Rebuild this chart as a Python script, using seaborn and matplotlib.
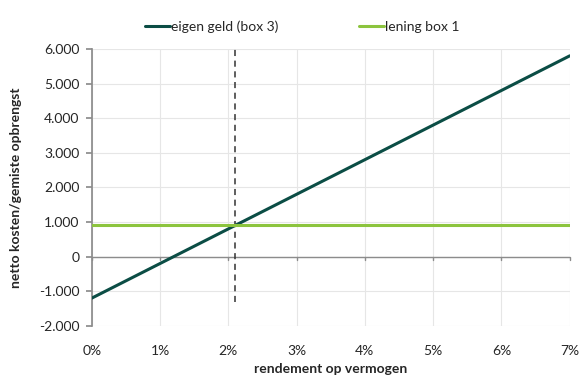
import numpy as np
import pandas as pd
import seaborn as sns
import matplotlib.pyplot as plt
from matplotlib.ticker import FuncFormatter

rendement = [0, 1, 2, 3, 4, 5, 6, 7]
eigen_geld = [-1200, -200, 800, 1800, 2800, 3800, 4800, 5800]
lening = [900, 900, 900, 900, 900, 900, 900, 900]
break_even = 2.1
dash_range = [-1300, 6000]

sns.set_theme(style="white")
plt.rcParams["font.family"] = ["Lato", "DejaVu Sans"]

df = pd.DataFrame({
    "rendement": rendement * 2,
    "waarde": eigen_geld + lening,
    "reeks": ["eigen geld (box 3)"] * len(rendement) + ["lening box 1"] * len(rendement),
})

fig = plt.figure(figsize=(5.88, 3.82), dpi=100)
ax = fig.add_axes([0.156, 0.147, 0.813, 0.725])

ax.plot([break_even, break_even], dash_range, color="#333333",
        linestyle=(0, (4, 3)), linewidth=1.1, zorder=3)

sns.lineplot(
    data=df,
    x="rendement",
    y="waarde",
    hue="reeks",
    palette=["#0b4d45", "#8cc43e"],
    linewidth=2.2,
    ax=ax,
    zorder=4,
)

ax.set_xlim(0, 7)
ax.set_ylim(-2000, 6000)
ax.set_xticks(range(0, 8))
ax.set_yticks(range(-2000, 6001, 1000))
ax.xaxis.set_major_formatter(FuncFormatter(lambda v, p: f"{int(v)}%"))
ax.yaxis.set_major_formatter(
    FuncFormatter(lambda v, p: f"{int(v):,}".replace(",", "."))
)

ax.grid(True, color="#e6e6e6", linewidth=0.8)
ax.axhline(0, color="#8c8c8c", linewidth=1, zorder=2)
for s in ["top", "right", "bottom"]:
    ax.spines[s].set_visible(False)
ax.spines["left"].set_color("#8c8c8c")

ax.tick_params(axis="y", length=4, color="#8c8c8c", labelsize=10, pad=5, left=True)
ax.tick_params(axis="x", length=0, labelsize=10, pad=14)
for x in rendement:
    ax.plot([x, x], [0, -90], color="#8c8c8c", linewidth=1, zorder=2,
            clip_on=False)

ax.set_xlabel("rendement op vermogen", fontsize=10, fontweight="bold", labelpad=4)
ax.set_ylabel("netto kosten/gemiste opbrengst", fontsize=10, fontweight="bold", labelpad=12)

ax.legend(
    loc="center",
    bbox_to_anchor=(0.514, 0.93),
    bbox_transform=fig.transFigure,
    ncol=2,
    frameon=False,
    fontsize=10,
    handlelength=1.8,
    handletextpad=0.1,
    columnspacing=5.75,
)

plt.savefig("out.png", dpi=100)
